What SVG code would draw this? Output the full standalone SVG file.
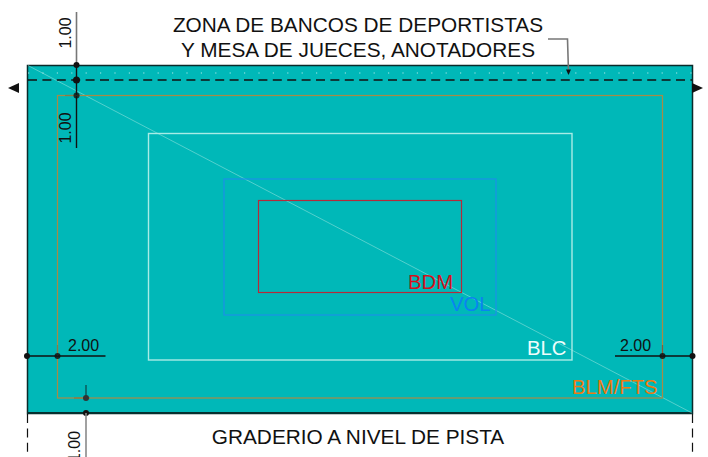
<svg xmlns="http://www.w3.org/2000/svg" width="708" height="457" viewBox="0 0 708 457">
<style>
text{font-family:"Liberation Sans",Arial,sans-serif}
.t{font-size:20.8px;fill:#111;text-anchor:middle}
.d{font-size:16px;fill:#111}
.z{font-size:20.3px}
.k{stroke:#111;stroke-width:1.4;fill:none}
.g{stroke:#777;stroke-width:1.6;fill:none}
.n{fill:#111}
</style>
<g id="court">
<rect x="27.5" y="65.5" width="665" height="348" fill="#00b8b8" stroke="#0a2a2a" stroke-width="1.5"/>
<line x1="27" y1="413" x2="692.5" y2="413" stroke="#06302f" stroke-width="2"/>
<line x1="28" y1="65.5" x2="692" y2="413" stroke="#9fe6e0" stroke-width="0.7" stroke-opacity="0.75"/>
<line x1="28" y1="73" x2="692" y2="73" stroke="#d5f5f2" stroke-width="1.2" stroke-opacity="0.8" stroke-dasharray="1.2 13.2"/>
</g>
<g id="zone-line">
<line x1="28" y1="80" x2="692" y2="80" stroke="#111" stroke-width="1.4" stroke-dasharray="9 5.4"/>
</g>
<g id="blm-fts">
<rect x="57.5" y="95.5" width="605" height="302.5" fill="none" stroke="#a88a45" stroke-width="1.2"/>
<text class="z" x="572" y="394" fill="#f07a10">BLM/FTS</text>
</g>
<g id="blc">
<rect x="148.5" y="133.5" width="423.5" height="226.5" fill="none" stroke="#a8ece6" stroke-width="1.4"/>
<text class="z" x="527" y="355" fill="#eefdfb">BLC</text>
</g>
<g id="vol">
<rect x="224" y="179" width="272" height="136" fill="none" stroke="#1b8fe8" stroke-width="1.2"/>
<text class="z" x="450" y="311" fill="#0a84f0">VOL</text>
</g>
<g id="bdm">
<rect x="258.5" y="200.5" width="203" height="92" fill="none" stroke="#b52a3a" stroke-width="1.2"/>
<text class="z" x="408" y="289" fill="#d4101c">BDM</text>
</g>
<g id="connectors">
<line class="g" x1="76.5" y1="12" x2="76.5" y2="65"/>
<line class="k" x1="76.5" y1="65" x2="76.5" y2="148"/>
<line x1="65" y1="95.5" x2="80" y2="95.5" stroke="#8a7a45" stroke-width="1.2"/>
<circle class="n" cx="76.5" cy="65" r="3"/>
<circle class="n" cx="76.5" cy="80" r="3.5"/>
<circle class="n" cx="76.5" cy="95.5" r="3" fill-opacity="0.8"/>
<line class="k" x1="27" y1="356" x2="105.5" y2="356"/>
<line x1="57.5" y1="345" x2="57.5" y2="356" stroke="#8a7a45" stroke-width="1.2"/>
<circle class="n" cx="27" cy="356" r="3"/>
<circle class="n" cx="57.5" cy="356" r="3" fill-opacity="0.85"/>
<line class="k" x1="615" y1="356" x2="692.5" y2="356"/>
<line x1="662.5" y1="345" x2="662.5" y2="356" stroke="#8a5a35" stroke-width="1.2"/>
<circle class="n" cx="662.5" cy="356" r="3" fill-opacity="0.85"/>
<circle class="n" cx="692.5" cy="356" r="3"/>
<line x1="86" y1="385" x2="86" y2="398" stroke="#0a5a5a" stroke-width="1.5"/>
<line x1="74" y1="398" x2="90" y2="398" stroke="#8a7a45" stroke-width="1.4"/>
<circle cx="86" cy="398" r="3" fill="#333"/>
<circle class="n" cx="86" cy="413" r="3"/>
<line x1="86" y1="413" x2="86" y2="457" stroke="#8a8a8a" stroke-width="1.6"/>
<line x1="27.5" y1="414" x2="27.5" y2="457" stroke="#111" stroke-width="1.2" stroke-dasharray="9 5.4"/>
<line x1="692.5" y1="414" x2="692.5" y2="457" stroke="#111" stroke-width="1.2" stroke-dasharray="9 5.4"/>
<polyline class="g" points="548,39 567.5,39 568.5,72"/>
<polygon class="n" points="566,69.5 571,69.5 568.5,75"/>
<polygon class="n" points="8,88 19,83 19,93"/>
<polygon class="n" points="703,88 692,83 692,93"/>
</g>
<g id="labels">
<text class="t" x="358" y="32">ZONA DE BANCOS DE DEPORTISTAS</text>
<text class="t" x="358" y="57">Y MESA DE JUECES, ANOTADORES</text>
<text class="t" x="358" y="444">GRADERIO A NIVEL DE PISTA</text>
<text class="d" transform="translate(71,33) rotate(-90)" text-anchor="middle">1.00</text>
<text class="d" transform="translate(71,128) rotate(-90)" text-anchor="middle">1.00</text>
<text class="d" transform="translate(80,446.500) rotate(-90)" text-anchor="middle">1.00</text>
<text class="d" x="68" y="351">2.00</text>
<text class="d" x="620" y="351">2.00</text>
</g>
</svg>
